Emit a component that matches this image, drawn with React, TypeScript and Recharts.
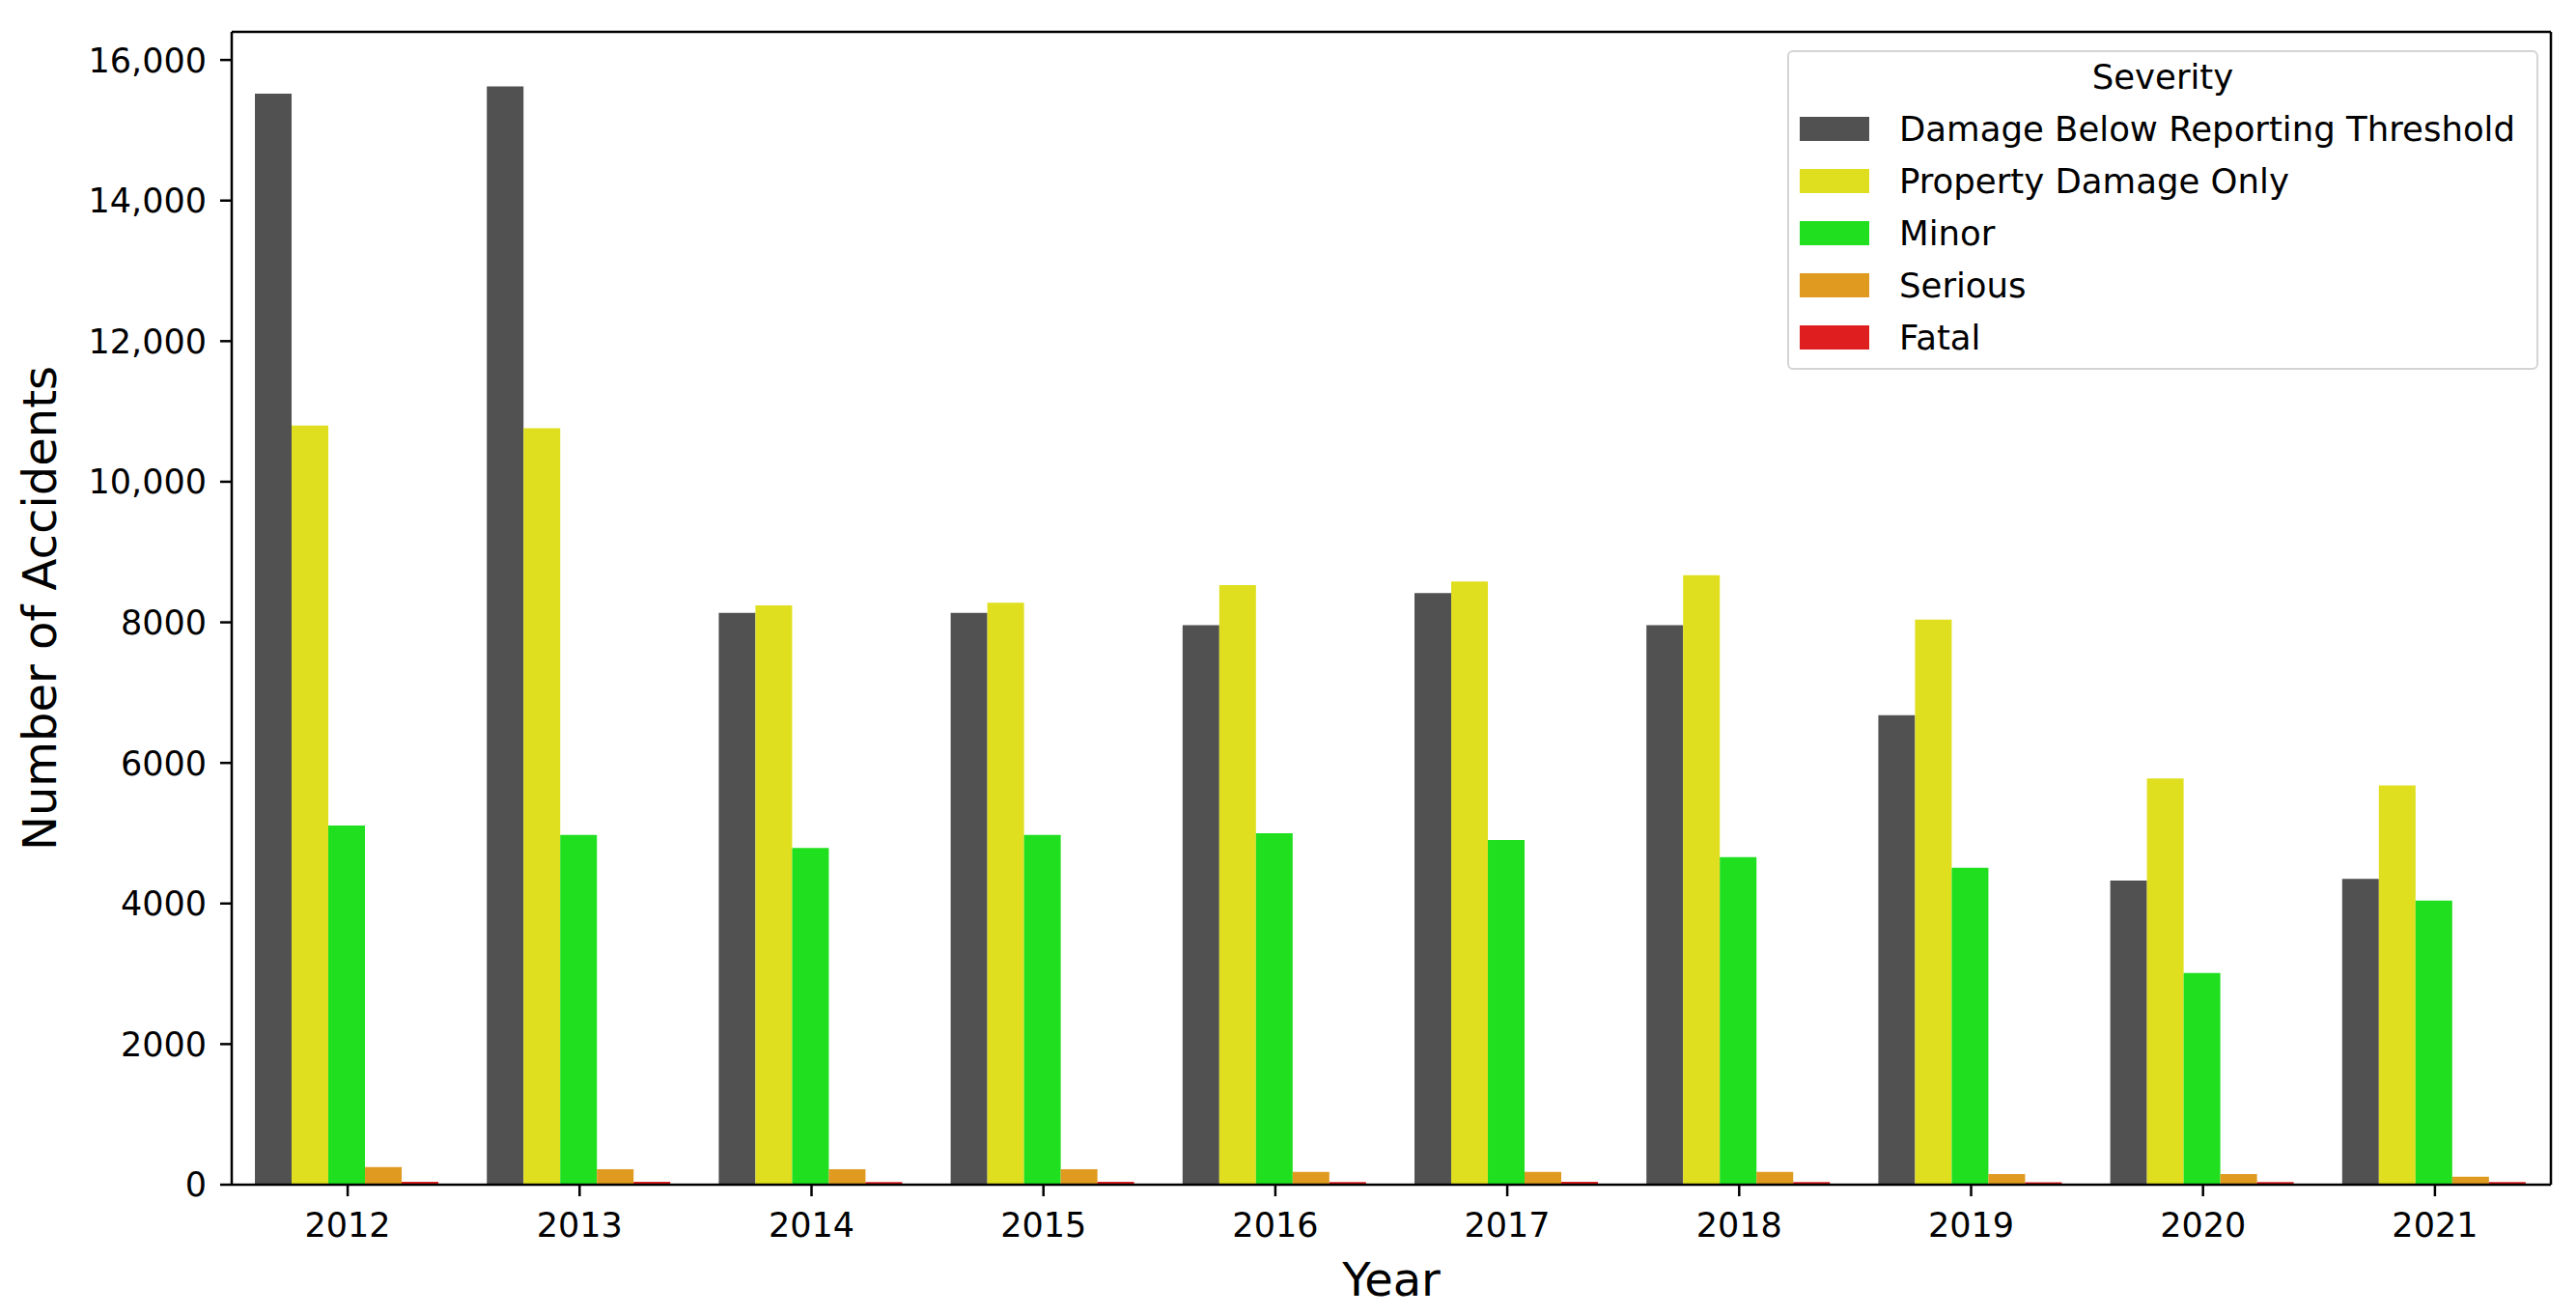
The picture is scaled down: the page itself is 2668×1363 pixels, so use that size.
import { BarChart, Bar, XAxis, YAxis, Legend } from "recharts"

const years = ["2012", "2013", "2014", "2015", "2016", "2017", "2018", "2019", "2020", "2021"]
const belowThreshold = [15520, 15625, 8135, 8135, 7960, 8415, 7960, 6680, 4325, 4350]
const propertyOnly = [10800, 10760, 8240, 8280, 8530, 8580, 8670, 8040, 5780, 5680]
const minor = [5110, 4975, 4790, 4975, 5000, 4905, 4660, 4510, 3010, 4040]
const serious = [252, 220, 220, 220, 183, 183, 183, 151, 151, 115]
const fatal = [42, 40, 38, 40, 38, 40, 38, 36, 38, 38]
const yTicks = [0, 2000, 4000, 6000, 8000, 10000, 12000, 14000, 16000]

const series = [
  { key: "below", name: "Damage Below Reporting Threshold", color: "#515151" },
  { key: "property", name: "Property Damage Only", color: "#dfdf1f" },
  { key: "minor", name: "Minor", color: "#1fdf1f" },
  { key: "serious", name: "Serious", color: "#df9a1f" },
  { key: "fatal", name: "Fatal", color: "#df1f1f" },
]

const data = years.map((year, i) => ({
  year,
  below: belowThreshold[i],
  property: propertyOnly[i],
  minor: minor[i],
  serious: serious[i],
  fatal: fatal[i],
}))

const FONT = "DejaVu Sans"
const spine = { stroke: "#000", strokeWidth: 2.5 }
const tickStyle = { fill: "#000", fontSize: 35, fontFamily: FONT }

const formatY = (v: number) => (v >= 10000 ? v.toLocaleString("en-US") : String(v))

// legend keeps the hue order of the series, not alphabetical
const SeverityLegend = () => (
  <div
    style={{
      width: 778,
      height: 331,
      boxSizing: "border-box",
      border: "2px solid #d4d4d4",
      borderRadius: 6,
      background: "#fff",
      fontFamily: FONT,
      fontSize: 35.5,
      color: "#000",
    }}
  >
    <div style={{ height: 52, lineHeight: "52px", textAlign: "center" }}>Severity</div>
    {series.map((s) => (
      <div key={s.key} style={{ height: 54, display: "flex", alignItems: "center", paddingLeft: 11 }}>
        <span style={{ width: 72, height: 25, background: s.color, display: "inline-block", marginRight: 31 }} />
        <span>{s.name}</span>
      </div>
    ))}
  </div>
)

const renderYLabel = ({ viewBox }: any) => {
  const x = viewBox.x + 41
  const y = viewBox.y + viewBox.height / 2
  return (
    <text
      x={x}
      y={y}
      transform={`rotate(-90, ${x}, ${y})`}
      textAnchor="middle"
      dominantBaseline="central"
      fill="#000"
      fontSize={48}
      fontFamily={FONT}
    >
      Number of Accidents
    </text>
  )
}

export default function App() {
  return (
    <div style={{ position: "absolute", left: 0, top: 0, background: "#fff" }}>
      <BarChart
        width={2668}
        height={1363}
        data={data}
        margin={{ top: 32, right: 25, bottom: 0, left: 0 }}
        barCategoryGap="10%"
        barGap={0}
      >
        <XAxis
          dataKey="year"
          height={136}
          axisLine={spine}
          tickLine={spine}
          tickSize={12}
          tickMargin={17}
          tick={tickStyle}
          label={{ value: "Year", position: "insideBottom", offset: 21, fill: "#000", fontSize: 48, fontFamily: FONT }}
        />
        <XAxis xAxisId="top" orientation="top" dataKey="year" height={1} tick={false} tickLine={false} axisLine={spine} />
        <YAxis
          width={240}
          domain={[0, 16400]}
          ticks={yTicks}
          tickFormatter={formatY}
          axisLine={spine}
          tickLine={spine}
          tickSize={12}
          tickMargin={14}
          tick={tickStyle}
          label={{ content: renderYLabel }}
        />
        <YAxis yAxisId="right" orientation="right" width={1} domain={[0, 16400]} tick={false} tickLine={false} axisLine={spine} />
        <Legend
          layout="horizontal"
          verticalAlign="middle"
          align="center"
          content={<SeverityLegend />}
          wrapperStyle={{ left: 1851, top: 52, width: 778, height: 331 }}
        />
        {series.map((s) => (
          <Bar key={s.key} dataKey={s.key} name={s.name} fill={s.color} isAnimationActive={false} />
        ))}
      </BarChart>
    </div>
  )
}
